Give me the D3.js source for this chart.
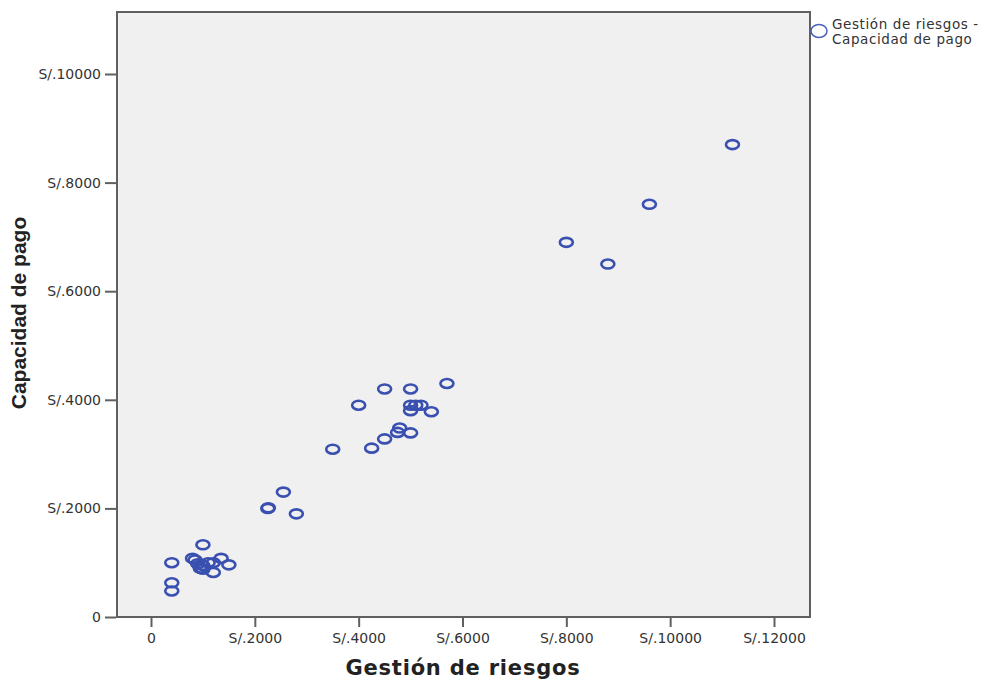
<!DOCTYPE html>
<html>
<head>
<meta charset="utf-8">
<script src="https://cdn.jsdelivr.net/npm/d3@7"></script>
<style>
  body { margin: 0; background: #fff; }
  svg { display: block; }
</style>
</head>
<body>
<svg id="chart" width="1006" height="681"></svg>
<script>
var width = 1006;
var height = 681;

// Gestión de riesgos (x) vs Capacidad de pago (y)
var gestion = [11200, 9600, 8000, 8800, 5700, 4500, 5000, 4000, 5000, 5100, 5200, 5000, 5400,
    4790, 4750, 5000, 4500, 4250, 3500,
    2550, 2250, 2260, 2800,
    400, 400, 400, 1000, 800, 850, 900, 950, 1000, 1100, 1200, 1350, 1500, 1200, 1000];
var capacidad = [8700, 7600, 6900, 6500, 4300, 4200, 4200, 3900, 3900, 3900, 3900, 3800, 3780,
    3480, 3400, 3390, 3280, 3110, 3090,
    2300, 2000, 2010, 1900,
    1000, 630, 480, 1330, 1080, 1050, 980, 900, 950, 1000, 1000, 1080, 960, 820, 880];
var xTicks = [0, 2000, 4000, 6000, 8000, 10000, 12000];
var yTicks = [0, 2000, 4000, 6000, 8000, 10000];

var plot = {left: 117, right: 810, top: 12, bottom: 617};

var x = d3.scaleLinear().domain([0, 12000]).range([151, 774]);
var y = d3.scaleLinear().domain([0, 10000]).range([617, 74]);

var svg = d3.select("#chart");

function money(d) {
    return d === 0 ? "0" : "S/." + d;
}

svg.append("rect")
    .attr("x", plot.left)
    .attr("y", plot.top)
    .attr("width", plot.right - plot.left)
    .attr("height", plot.bottom - plot.top)
    .attr("fill", "#f0f0f0")
    .attr("stroke", "#606060")
    .attr("stroke-width", 2);

// x axis ticks
var xAxis = svg.append("g")
    .attr("transform", "translate(0," + (plot.bottom + 1) + ")")
    .call(d3.axisBottom(x).tickValues(xTicks).tickSize(9).tickPadding(6).tickFormat(money));

// y axis ticks
var yAxis = svg.append("g")
    .attr("transform", "translate(" + (plot.left - 1) + ",0)")
    .call(d3.axisLeft(y).tickValues(yTicks).tickSize(11).tickPadding(4).tickFormat(money));

[xAxis, yAxis].forEach(function(g) {
    g.select(".domain").remove();
    g.selectAll(".tick line").attr("stroke", "#606060").attr("stroke-width", 2);
    g.selectAll(".tick text")
        .attr("fill", "#333")
        .style("font-family", "DejaVu Sans, Verdana, sans-serif")
        .style("font-size", "14px");
});

// points
svg.append("g").selectAll("ellipse")
    .data(gestion)
    .enter().append("ellipse")
    .attr("cx", function(d) { return x(d); })
    .attr("cy", function(d, i) { return y(capacidad[i]); })
    .attr("rx", 6.5)
    .attr("ry", 4.5)
    .attr("fill", "none")
    .attr("stroke", "#3a50b0")
    .attr("stroke-width", 2.6);

// axis titles
svg.append("text")
    .attr("x", 463)
    .attr("y", 675)
    .attr("text-anchor", "middle")
    .style("font-family", "DejaVu Sans, Verdana, sans-serif")
    .style("font-weight", "bold")
    .style("font-size", "21px")
    .style("letter-spacing", "0.8px")
    .attr("fill", "#222")
    .text("Gestión de riesgos");

svg.append("text")
    .attr("transform", "translate(26,313) rotate(-90)")
    .attr("text-anchor", "middle")
    .style("font-family", "Liberation Sans, Arial, sans-serif")
    .style("font-weight", "bold")
    .style("font-size", "21px")
    .attr("fill", "#222")
    .text("Capacidad de pago");

// legend
svg.append("ellipse")
    .attr("cx", 819)
    .attr("cy", 31)
    .attr("rx", 8)
    .attr("ry", 6.5)
    .attr("fill", "none")
    .attr("stroke", "#4a60c0")
    .attr("stroke-width", 1.5);

var legend = svg.append("text")
    .attr("x", 832)
    .attr("y", 29)
    .style("font-family", "DejaVu Sans, Verdana, sans-serif")
    .style("font-size", "13.5px")
    .style("letter-spacing", "0.6px")
    .attr("fill", "#333");
legend.append("tspan").attr("x", 832).text("Gestión de riesgos -");
legend.append("tspan").attr("x", 832).attr("dy", 15).text("Capacidad de pago");
</script>
</body>
</html>
